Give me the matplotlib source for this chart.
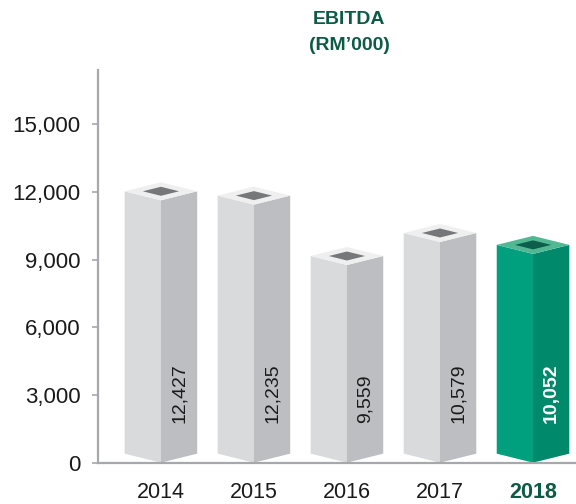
import matplotlib
matplotlib.use("Agg")
import matplotlib.pyplot as plt
from matplotlib.patches import Polygon

# data
years = ["2014", "2015", "2016", "2017", "2018"]
ebitda = [12427, 12235, 9559, 10579, 10052]
value_labels = ["12,427", "12,235", "9,559", "10,579", "10,052"]
yticks = [0, 3000, 6000, 9000, 12000, 15000]
ytick_labels = ["0", "3,000", "6,000", "9,000", "12,000", "15,000"]

# colours for the grey boxes and the highlighted (last) box
grey = {"front": "#d9dadb", "side": "#bdbec1", "top": "#efeff0", "hole": "#767779"}
green = {"front": "#00a07f", "side": "#008a6b", "top": "#52b894", "hole": "#0d5e4a"}
dark_green = "#0d5a45"
axis_grey = "#a7a8ab"

plt.rcParams["font.family"] = ["Liberation Sans", "DejaVu Sans"]

fig = plt.figure(figsize=(5.76, 5.04), dpi=100)
ax = fig.add_axes([0.170, 0.082, 0.830, 0.779])

hw = 0.39   # half width of a box, category units
dy = 400    # half height of the top diamond, data units

for i, v in enumerate(ebitda):
    c = green if i == len(ebitda) - 1 else grey
    xl, xm, xr = i - hw, i, i + hw
    front = [(xl, v - dy), (xm, v - 2 * dy), (xm, 0), (xl, dy)]
    side = [(xm, v - 2 * dy), (xr, v - dy), (xr, dy), (xm, 0)]
    top = [(xl, v - dy), (xm, v - 2 * dy), (xr, v - dy), (xm, v)]
    cy = v - dy
    hole = [(xm - hw * 0.5, cy), (xm, cy - dy * 0.5), (xm + hw * 0.5, cy), (xm, cy + dy * 0.5)]
    ax.add_patch(Polygon(front, closed=True, fc=c["front"], ec="none", zorder=2))
    ax.add_patch(Polygon(side, closed=True, fc=c["side"], ec="none", zorder=2))
    ax.add_patch(Polygon(top, closed=True, fc=c["top"], ec="none", zorder=2))
    ax.add_patch(Polygon(hole, closed=True, fc=c["hole"], ec="none", zorder=3))

    if i == len(ebitda) - 1:
        ax.text(i + hw / 2, 1750, value_labels[i], rotation=90, ha="center", va="bottom",
                fontsize=14, color="white", fontweight="bold", zorder=4)
    else:
        ax.text(i + hw / 2, 1750, value_labels[i], rotation=90, ha="center", va="bottom",
                fontsize=14, color="#1a1a1a", zorder=4)

ax.set_xlim(-0.677, 4.462)
ax.set_ylim(0, 17400)

for s in ["top", "right"]:
    ax.spines[s].set_visible(False)
for s in ["left", "bottom"]:
    ax.spines[s].set_color(axis_grey)
    ax.spines[s].set_linewidth(1.6)
    ax.spines[s].set_zorder(5)

ax.set_yticks(yticks, ytick_labels)
ax.tick_params(axis="y", length=4.5, width=1.2, color=axis_grey, pad=8,
               labelsize=16, labelcolor="#1a1a1a")
ax.set_xticks(range(len(years)), years)
ax.tick_params(axis="x", length=0, pad=14, labelsize=15.5, labelcolor="#1a1a1a")
last = ax.get_xticklabels()[-1]
last.set_color(dark_green)
last.set_fontweight("bold")

fig.text(349 / 576, 1 - 19 / 504, "EBITDA", ha="center", va="center", fontsize=14,
         fontweight="bold", color=dark_green)
fig.text(349 / 576, 1 - 46 / 504, "(RM\u2019000)", ha="center", va="center", fontsize=14,
         fontweight="bold", color=dark_green)

fig.savefig("out.png", dpi=100)
